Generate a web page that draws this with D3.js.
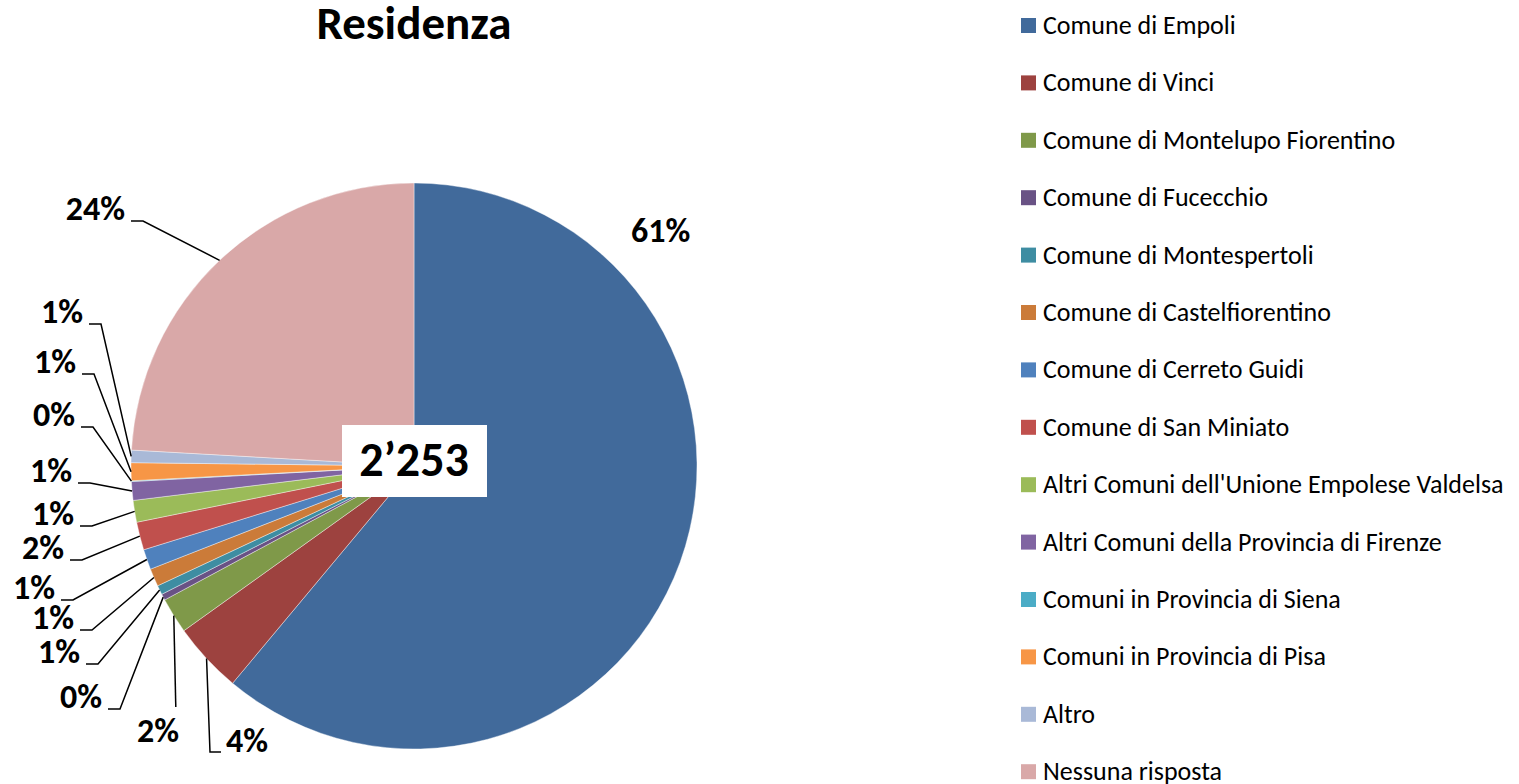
<!DOCTYPE html>
<html>
<head>
<meta charset="utf-8">
<script src="https://cdn.jsdelivr.net/npm/d3@7"></script>
<style>
  body { margin: 0; background: #fff; }
  svg { display: block; font-family: Carlito, Calibri, Lato, sans-serif; }
</style>
</head>
<body>
<div id="chart"></div>
<script>
const title = "Residenza";

const categories = [
  "Comune di Empoli",
  "Comune di Vinci",
  "Comune di Montelupo Fiorentino",
  "Comune di Fucecchio",
  "Comune di Montespertoli",
  "Comune di Castelfiorentino",
  "Comune di Cerreto Guidi",
  "Comune di San Miniato",
  "Altri Comuni dell'Unione Empolese Valdelsa",
  "Altri Comuni della Provincia di Firenze",
  "Comuni in Provincia di Siena",
  "Comuni in Provincia di Pisa",
  "Altro",
  "Nessuna risposta"
];

// answers per category (total 2253)
const counts = [1376, 91, 46, 8, 12, 23, 26, 36, 28, 24, 1, 23, 16, 543];

const colors = [
  "#416a9b", "#9d423f", "#7f9949", "#695285", "#3e8da2", "#cb7b39", "#4f81bd",
  "#c0504d", "#9bbb59", "#8064a2", "#4bacc6", "#f79646", "#a9b9d7", "#d9a8a8"
];

// label placement (text x / baseline y) and how the leader line joins it
const labelLayout = [
  {x: 631, y: 242, anchor: "start", leader: "none"},
  {x: 226, y: 752, anchor: "start", leader: "right"},
  {x: 158, y: 742, anchor: "middle", leader: "down"},
  {x: 102, y: 708, anchor: "end", leader: "left"},
  {x: 80,  y: 663, anchor: "end", leader: "left"},
  {x: 74,  y: 629, anchor: "end", leader: "left"},
  {x: 55,  y: 599, anchor: "end", leader: "left"},
  {x: 64,  y: 559, anchor: "end", leader: "left"},
  {x: 74,  y: 525, anchor: "end", leader: "left"},
  {x: 72,  y: 482, anchor: "end", leader: "left"},
  {x: 75,  y: 426, anchor: "end", leader: "left"},
  {x: 76,  y: 373, anchor: "end", leader: "left"},
  {x: 83,  y: 323, anchor: "end", leader: "left"},
  {x: 125, y: 220, anchor: "end", leader: "left"}
];

const W = 1519, H = 784;
const cx = 414, cy = 466, r = 283;

const svg = d3.select("#chart").append("svg")
  .attr("width", W)
  .attr("height", H);

const total = d3.sum(counts);
const fmtTotal = d3.formatLocale({decimal: ".", thousands: "\u2019", grouping: [3], currency: ["", ""]}).format(",");
const pct = v => Math.round(v / total * 100) + "%";

const pie = d3.pie().sort(null).value(d => d)(counts);
const arc = d3.arc().innerRadius(0).outerRadius(r);
const edge = d3.arc().innerRadius(r).outerRadius(r);

const g = svg.append("g").attr("transform", `translate(${cx},${cy})`);

g.selectAll("path.slice")
  .data(pie)
  .enter()
  .append("path")
  .attr("class", "slice")
  .attr("d", arc)
  .attr("fill", (d, i) => colors[i])
  .attr("stroke", "#fff")
  .attr("stroke-width", 0.4);

// leader lines
const line = d3.line();
svg.selectAll("path.leader")
  .data(pie.filter((d, i) => labelLayout[i].leader !== "none"))
  .enter()
  .append("path")
  .attr("class", "leader")
  .attr("fill", "none")
  .attr("stroke", "#000")
  .attr("stroke-width", 1.5)
  .attr("d", d => {
    const L = labelLayout[d.index];
    const [ex, ey] = edge.centroid(d);
    const p0 = [cx + ex, cy + ey];
    if (L.leader === "down") return line([p0, [p0[0] + 2, L.y - 35]]);
    if (L.leader === "right") return line([p0, [L.x - 16, L.y], [L.x - 5, L.y]]);
    return line([p0, [L.x + 18, L.y + 1], [L.x + 6, L.y + 1]]);
  });

// percentage labels
svg.selectAll("text.pct")
  .data(pie)
  .enter()
  .append("text")
  .attr("class", "pct")
  .attr("x", d => labelLayout[d.index].x)
  .attr("y", d => labelLayout[d.index].y)
  .attr("text-anchor", d => labelLayout[d.index].anchor)
  .attr("font-size", 34)
  .attr("font-weight", "bold")
  .text(d => pct(d.value));

// total in the middle
svg.append("rect")
  .attr("x", cx - 72).attr("y", 425)
  .attr("width", 145).attr("height", 72)
  .attr("fill", "#fff");

svg.append("text")
  .attr("x", cx).attr("y", 476)
  .attr("text-anchor", "middle")
  .attr("font-size", 48)
  .attr("font-weight", "bold")
  .text(fmtTotal(total));

// title
svg.append("text")
  .attr("x", cx).attr("y", 39)
  .attr("text-anchor", "middle")
  .attr("font-size", 47)
  .attr("font-weight", "bold")
  .text(title);

// legend
const rowY = d3.scalePoint().domain(categories).range([25.5, 25.5 + 57.4 * 13]);

const leg = svg.selectAll("g.leg")
  .data(categories)
  .enter()
  .append("g")
  .attr("class", "leg")
  .attr("transform", d => `translate(1021,${rowY(d)})`);

leg.append("rect")
  .attr("x", 0).attr("y", -7.5)
  .attr("width", 15).attr("height", 15)
  .attr("fill", (d, i) => colors[i]);

leg.append("text")
  .attr("x", 22).attr("y", 8.5)
  .attr("font-size", 26)
  .attr("fill", "#000")
  .text(d => d);
</script>
</body>
</html>
